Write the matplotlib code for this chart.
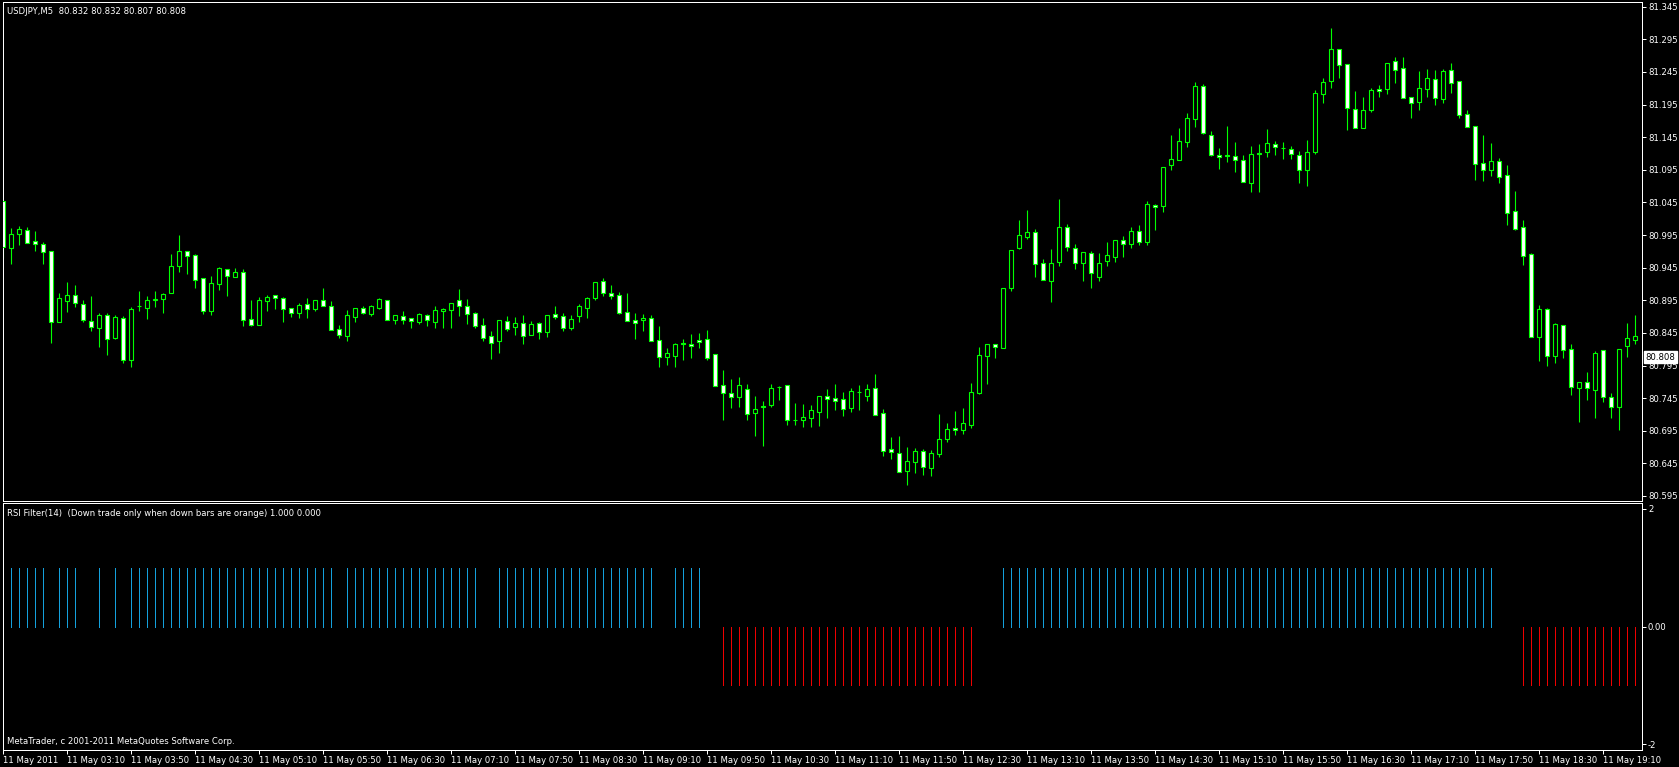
import matplotlib
matplotlib.use("Agg")
import matplotlib.pyplot as plt
import numpy as np

# ---------------- data (USDJPY M5, 11 May 2011, 02:30 .. 19:30) ----------------
opens = [81.047, 80.975, 80.997, 81.003, 80.986, 80.981, 80.971, 80.862, 80.894, 80.903,
         80.889, 80.863, 80.853, 80.873, 80.837, 80.868, 80.804, 80.886, 80.883, 80.896,
         80.897, 80.906, 80.948, 80.971, 80.964, 80.929, 80.879, 80.920, 80.943, 80.930,
         80.938, 80.866, 80.857, 80.894, 80.903, 80.899, 80.883, 80.876, 80.889, 80.882,
         80.896, 80.886, 80.851, 80.840, 80.869, 80.883, 80.874, 80.883, 80.896, 80.865,
         80.871, 80.868, 80.862, 80.873, 80.862, 80.879, 80.880, 80.896, 80.886, 80.876,
         80.857, 80.840, 80.833, 80.863, 80.854, 80.860, 80.842, 80.860, 80.846, 80.874,
         80.871, 80.853, 80.871, 80.883, 80.899, 80.925, 80.906, 80.903, 80.877, 80.865,
         80.865, 80.868, 80.834, 80.808, 80.810, 80.829, 80.828, 80.834, 80.836, 80.813,
         80.765, 80.753, 80.747, 80.759, 80.722, 80.733, 80.735, 80.762, 80.765, 80.712,
         80.712, 80.715, 80.724, 80.748, 80.745, 80.744, 80.730, 80.755, 80.748, 80.761,
         80.722, 80.667, 80.661, 80.633, 80.647, 80.664, 80.638, 80.659, 80.682, 80.699,
         80.696, 80.704, 80.753, 80.810, 80.828, 80.822, 80.914, 80.975, 80.992, 81.000,
         80.952, 80.925, 80.954, 81.007, 80.975, 80.952, 80.967, 80.930, 80.955, 80.961,
         80.987, 80.981, 81.001, 80.985, 81.041, 81.040, 81.102, 81.110, 81.138, 81.173,
         81.224, 81.149, 81.118, 81.117, 81.116, 81.110, 81.075, 81.121, 81.122, 81.135,
         81.129, 81.127, 81.118, 81.095, 81.122, 81.211, 81.231, 81.280, 81.257, 81.188,
         81.159, 81.187, 81.219, 81.219, 81.262, 81.251, 81.207, 81.199, 81.219, 81.234,
         81.204, 81.248, 81.231, 81.181, 81.162, 81.105, 81.095, 81.109, 81.087, 81.032,
         81.008, 80.966, 80.839, 80.882, 80.810, 80.857, 80.820, 80.761, 80.770, 80.758,
         80.819, 80.747, 80.731, 80.825, 80.834]

highs = [81.047, 81.006, 81.009, 81.008, 81.001, 80.984, 80.971, 80.906, 80.923, 80.918,
         80.896, 80.902, 80.876, 80.876, 80.873, 80.871, 80.885, 80.909, 80.902, 80.909,
         80.906, 80.966, 80.995, 80.971, 80.966, 80.929, 80.932, 80.946, 80.943, 80.944,
         80.943, 80.896, 80.900, 80.903, 80.903, 80.900, 80.883, 80.891, 80.899, 80.896,
         80.914, 80.894, 80.857, 80.880, 80.883, 80.886, 80.888, 80.899, 80.896, 80.873,
         80.879, 80.868, 80.876, 80.874, 80.886, 80.883, 80.891, 80.912, 80.897, 80.877,
         80.868, 80.848, 80.865, 80.871, 80.869, 80.873, 80.863, 80.862, 80.873, 80.886,
         80.876, 80.873, 80.889, 80.900, 80.923, 80.929, 80.918, 80.908, 80.906, 80.876,
         80.874, 80.873, 80.856, 80.822, 80.830, 80.836, 80.843, 80.845, 80.849, 80.813,
         80.788, 80.775, 80.778, 80.767, 80.748, 80.741, 80.767, 80.763, 80.765, 80.738,
         80.736, 80.735, 80.748, 80.759, 80.767, 80.755, 80.761, 80.765, 80.767, 80.782,
         80.728, 80.685, 80.687, 80.670, 80.669, 80.667, 80.666, 80.721, 80.707, 80.725,
         80.730, 80.768, 80.824, 80.828, 80.828, 80.914, 80.972, 81.018, 81.033, 81.005,
         80.958, 80.973, 81.050, 81.012, 80.981, 80.969, 80.971, 80.967, 80.984, 80.987,
         80.993, 81.008, 81.011, 81.047, 81.042, 81.099, 81.148, 81.159, 81.182, 81.230,
         81.227, 81.155, 81.129, 81.162, 81.138, 81.118, 81.132, 81.135, 81.158, 81.139,
         81.138, 81.132, 81.124, 81.141, 81.217, 81.236, 81.312, 81.280, 81.257, 81.216,
         81.207, 81.220, 81.225, 81.259, 81.268, 81.268, 81.207, 81.246, 81.250, 81.248,
         81.250, 81.259, 81.231, 81.187, 81.162, 81.148, 81.136, 81.113, 81.102, 81.063,
         81.018, 80.968, 80.888, 80.883, 80.860, 80.857, 80.828, 80.770, 80.785, 80.817,
         80.819, 80.753, 80.820, 80.860, 80.873]

lows = [80.960, 80.951, 80.980, 80.983, 80.971, 80.951, 80.830, 80.862, 80.877, 80.885,
        80.862, 80.848, 80.823, 80.811, 80.836, 80.799, 80.793, 80.879, 80.866, 80.885,
        80.876, 80.906, 80.938, 80.935, 80.914, 80.874, 80.873, 80.911, 80.902, 80.930,
        80.856, 80.856, 80.857, 80.879, 80.882, 80.862, 80.869, 80.868, 80.868, 80.879,
        80.886, 80.850, 80.837, 80.833, 80.862, 80.874, 80.871, 80.882, 80.865, 80.859,
        80.859, 80.853, 80.859, 80.856, 80.853, 80.853, 80.853, 80.871, 80.859, 80.853,
        80.833, 80.805, 80.814, 80.848, 80.842, 80.828, 80.842, 80.836, 80.839, 80.866,
        80.848, 80.850, 80.862, 80.868, 80.896, 80.902, 80.897, 80.874, 80.863, 80.836,
        80.848, 80.833, 80.793, 80.796, 80.793, 80.804, 80.807, 80.822, 80.804, 80.764,
        80.712, 80.730, 80.732, 80.712, 80.687, 80.672, 80.732, 80.742, 80.704, 80.704,
        80.701, 80.701, 80.702, 80.715, 80.727, 80.718, 80.724, 80.727, 80.741, 80.719,
        80.656, 80.651, 80.632, 80.612, 80.630, 80.627, 80.625, 80.655, 80.678, 80.689,
        80.690, 80.699, 80.752, 80.767, 80.807, 80.822, 80.909, 80.974, 80.989, 80.931,
        80.926, 80.892, 80.948, 80.971, 80.943, 80.925, 80.914, 80.925, 80.948, 80.953,
        80.962, 80.975, 80.979, 80.979, 81.003, 81.031, 81.094, 81.110, 81.130, 81.161,
        81.150, 81.116, 81.096, 81.107, 81.091, 81.076, 81.061, 81.061, 81.115, 81.118,
        81.112, 81.112, 81.075, 81.070, 81.119, 81.198, 81.220, 81.236, 81.156, 81.159,
        81.159, 81.184, 81.207, 81.211, 81.228, 81.205, 81.174, 81.187, 81.207, 81.194,
        81.197, 81.213, 81.174, 81.161, 81.079, 81.078, 81.085, 81.075, 81.010, 81.003,
        80.949, 80.839, 80.802, 80.794, 80.799, 80.807, 80.750, 80.709, 80.742, 80.715,
        80.739, 80.715, 80.696, 80.808, 80.828]

closes = [80.977, 80.997, 81.004, 80.983, 80.981, 80.969, 80.862, 80.899, 80.903, 80.891,
          80.865, 80.854, 80.873, 80.836, 80.869, 80.804, 80.882, 80.886, 80.896, 80.897,
          80.905, 80.948, 80.971, 80.963, 80.926, 80.879, 80.922, 80.944, 80.932, 80.938,
          80.865, 80.857, 80.896, 80.900, 80.899, 80.882, 80.876, 80.888, 80.882, 80.896,
          80.886, 80.850, 80.842, 80.873, 80.883, 80.876, 80.886, 80.897, 80.865, 80.873,
          80.865, 80.863, 80.874, 80.865, 80.880, 80.881, 80.891, 80.886, 80.874, 80.856,
          80.837, 80.830, 80.865, 80.851, 80.860, 80.840, 80.859, 80.846, 80.873, 80.869,
          80.853, 80.866, 80.886, 80.899, 80.923, 80.906, 80.902, 80.876, 80.863, 80.860,
          80.868, 80.833, 80.808, 80.814, 80.828, 80.828, 80.825, 80.831, 80.807, 80.764,
          80.753, 80.747, 80.765, 80.721, 80.728, 80.732, 80.761, 80.762, 80.712, 80.712,
          80.716, 80.727, 80.748, 80.744, 80.741, 80.728, 80.756, 80.754, 80.759, 80.719,
          80.664, 80.662, 80.632, 80.649, 80.664, 80.640, 80.661, 80.682, 80.698, 80.696,
          80.707, 80.755, 80.811, 80.828, 80.824, 80.914, 80.972, 80.995, 81.000, 80.950,
          80.926, 80.952, 81.007, 80.977, 80.952, 80.969, 80.937, 80.952, 80.964, 80.987,
          80.981, 81.001, 80.985, 81.042, 81.038, 81.099, 81.111, 81.139, 81.174, 81.224,
          81.152, 81.118, 81.115, 81.116, 81.110, 81.076, 81.119, 81.120, 81.136, 81.130,
          81.128, 81.119, 81.095, 81.122, 81.213, 81.230, 81.280, 81.256, 81.190, 81.159,
          81.187, 81.217, 81.216, 81.259, 81.248, 81.205, 81.197, 81.220, 81.236, 81.205,
          81.246, 81.228, 81.179, 81.161, 81.104, 81.095, 81.109, 81.084, 81.029, 81.005,
          80.963, 80.839, 80.882, 80.810, 80.859, 80.819, 80.762, 80.770, 80.761, 80.814,
          80.747, 80.731, 80.820, 80.837, 80.840]

# RSI filter histogram: 1 = up (blue), -1 = down (red), 0 = none
rsi_filter = ([1] * 6 + [0] + [1] * 3 + [0] * 2 + [1, 0, 1, 0] + [1] * 26 + [0] + [1] * 17
              + [0] * 2 + [1] * 20 + [0] * 2 + [1] * 4 + [0] * 2 + [-1] * 32 + [0] * 3
              + [1] * 62 + [0] * 3 + [-1] * 15)

time_tick_bars = [0, 8, 16, 24, 32, 40, 48, 56, 64, 72, 80, 88, 96, 104, 112, 120, 128,
                  136, 144, 152, 160, 168, 176, 184, 192, 200]
time_tick_labels = ["11 May 2011", "11 May 03:10", "11 May 03:50", "11 May 04:30",
                    "11 May 05:10", "11 May 05:50", "11 May 06:30", "11 May 07:10",
                    "11 May 07:50", "11 May 08:30", "11 May 09:10", "11 May 09:50",
                    "11 May 10:30", "11 May 11:10", "11 May 11:50", "11 May 12:30",
                    "11 May 13:10", "11 May 13:50", "11 May 14:30", "11 May 15:10",
                    "11 May 15:50", "11 May 16:30", "11 May 17:10", "11 May 17:50",
                    "11 May 18:30", "11 May 19:10"]
price_ticks = [80.595, 80.645, 80.695, 80.745, 80.795, 80.845, 80.895, 80.945, 80.995,
               81.045, 81.095, 81.145, 81.195, 81.245, 81.295, 81.345]
ind_ticks = [2, 0, -2]
ind_tick_labels = ["2", "0.00", "-2"]
bid = 80.808
title_text = "USDJPY,M5  80.832 80.832 80.807 80.808"
ind_text = "RSI Filter(14)  (Down trade only when down bars are orange) 1.000 0.000"
footer_text = "MetaTrader, c 2001-2011 MetaQuotes Software Corp."

# ---------------- drawing ----------------
plt.rcParams['font.family'] = ['DejaVu Sans']
FS = 6.1
GREEN = '#00FF00'
BLUE = '#14A0DC'
RED = '#EE0000'
PX = 0.72  # one pixel in points at 100 dpi

W, H = 1679, 767
fig = plt.figure(figsize=(W / 100, H / 100), dpi=100, facecolor='black')
L, R = 2.7, 1641.7
ax = fig.add_axes([L / W, 1 - 500.5 / H, (R - L) / W, (500.5 - 2.3) / H])
ax2 = fig.add_axes([L / W, 1 - 750 / H, (R - L) / W, (750 - 503) / H])

o = np.array(opens); h = np.array(highs); lo = np.array(lows); c = np.array(closes)
n = len(o)
x = np.arange(n)

for a in (ax, ax2):
    a.set_facecolor('black')
    for s in a.spines.values():
        s.set_color('white')
        s.set_linewidth(PX)
        s.set_antialiased(False)
    a.set_xlim(-0.075, 204.8)

# candles
ax.vlines(x, lo, h, color=GREEN, linewidth=0.8, zorder=2)
bull = c >= o
ax.bar(x, np.abs(c - o), bottom=np.minimum(o, c), width=0.5,
       color=np.where(bull, 'black', 'white'), edgecolor=GREEN, linewidth=0.8, zorder=3)
ax.set_ylim(80.5881, 81.3518)
ax.set_xticks([])
ax.yaxis.tick_right()
ax.set_yticks(price_ticks)
ax.set_yticklabels([f"{v:.3f}" for v in price_ticks])
ax.tick_params(axis='y', colors='white', labelcolor='white', length=3, width=PX,
               pad=2, labelsize=FS, direction='out')

ax.annotate(f"{bid:.3f}", xy=(1, bid), xycoords=('axes fraction', 'data'),
            xytext=(4, 0), textcoords='offset pixels', ha='left', va='center',
            fontsize=FS, color='black', zorder=10, annotation_clip=False,
            bbox=dict(boxstyle='square,pad=0.2', facecolor='white', edgecolor='white'))

# indicator
sig = np.array(rsi_filter)
ax2.vlines(x[sig > 0], 0, sig[sig > 0], color=BLUE, linewidth=PX, antialiased=False)
ax2.vlines(x[sig < 0], 0, sig[sig < 0], color=RED, linewidth=PX, antialiased=False)
ax2.set_ylim(-2.1, 2.1)
ax2.yaxis.tick_right()
ax2.set_yticks(ind_ticks)
ax2.set_yticklabels(ind_tick_labels)
ax2.set_xticks(time_tick_bars)
ax2.set_xticklabels(time_tick_labels)
for lab in ax2.get_xticklabels():
    lab.set_horizontalalignment('left')
ax2.tick_params(axis='both', colors='white', labelcolor='white', length=3, width=PX,
                pad=1.5, labelsize=FS, direction='out')

fig.text(7 / W, 1 - 11 / H, title_text, color='white', fontsize=FS, ha='left', va='center')
fig.text(7 / W, 1 - 513 / H, ind_text, color='white', fontsize=FS, ha='left', va='center')
fig.text(7 / W, 1 - 741 / H, footer_text, color='white', fontsize=FS, ha='left', va='center')

fig.savefig('out.png', dpi=100, facecolor='black')
